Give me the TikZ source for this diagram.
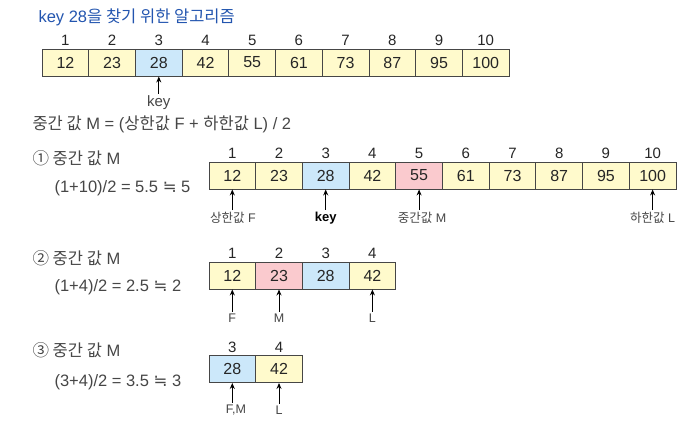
\documentclass[tikz,border=0pt]{standalone}
\usepackage{fontspec}
\setmainfont{Liberation Sans}
\newfontfamily\kr{Noto Sans CJK KR}
\newfontfamily\sym{DejaVu Sans}
\usetikzlibrary{arrows.meta}
\definecolor{titleblue}{RGB}{35,85,175}
\definecolor{cellyellow}{RGB}{255,250,204}
\definecolor{cellblue}{RGB}{204,232,250}
\definecolor{cellpink}{RGB}{250,202,206}
\definecolor{linegray}{RGB}{70,70,70}
\definecolor{textgray}{RGB}{70,70,70}
\newcommand{\approxeq}{{\sym ≒}}
\begin{document}
\begin{tikzpicture}
        [x=1pt, y=-1pt,
        cell/.style={rectangle, draw=linegray, line width=0.9pt, fill=cellyellow, minimum width=46.7pt, minimum height=27pt, font=\fontsize{16}{16}\selectfont, text=black!85, inner sep=0pt,
            label={[font=\fontsize{15}{15}\selectfont, text=black!85, inner sep=2.5pt]above:#1}},
        keycell/.style={cell=#1, fill=cellblue},
        midcell/.style={cell=#1, fill=cellpink},
        txt/.style={anchor=west, font=\fontsize{16.5}{16.5}\selectfont, text=textgray},
        lab/.style={font=\fontsize{12.5}{12.5}\selectfont, text=textgray, inner sep=2pt},
        ptr/.style={-{Stealth[length=6pt, width=5pt]}, black, line width=1pt}]

        \useasboundingbox (0,0) rectangle (700,422);

        \node[anchor=west, font=\fontsize{16.5}{16.5}\selectfont, text=titleblue] (title) at (35,17) {key 28{\kr 을 찾기 위한 알고리즘}};

        % whole array
        \node[cell=1] (a1) at (65.4,62.5) {12};
        \node[cell=2] (a2) at (112.1,62.5) {23};
        \node[keycell=3] (a3) at (158.8,62.5) {28};
        \node[cell=4] (a4) at (205.5,62.5) {42};
        \node[cell=5] (a5) at (252.2,62.5) {55};
        \node[cell=6] (a6) at (298.9,62.5) {61};
        \node[cell=7] (a7) at (345.6,62.5) {73};
        \node[cell=8] (a8) at (392.3,62.5) {87};
        \node[cell=9] (a9) at (439.0,62.5) {95};
        \node[cell=10] (a10) at (485.7,62.5) {100};

        \node[lab, font=\fontsize{15}{15}\selectfont] (akey) at (158.8,103) {key};
        \draw[ptr] (akey.north) -- (a3.south);

        \node[txt] (rule) at (29,124) {{\kr 중간 값} M = ({\kr 상한값} F + {\kr 하한값} L) / 2};

        % step 1
        \node[txt] (s1) at (29,158) {{\kr ① 중간 값} M};
        \node[txt] (c1) at (51,188) {(1+10)/2 = 5.5 \approxeq{} 5};

        \node[cell=1] (p1) at (232.3,175.5) {12};
        \node[cell=2] (p2) at (279.0,175.5) {23};
        \node[keycell=3] (p3) at (325.7,175.5) {28};
        \node[cell=4] (p4) at (372.4,175.5) {42};
        \node[midcell=5] (p5) at (419.1,175.5) {55};
        \node[cell=6] (p6) at (465.8,175.5) {61};
        \node[cell=7] (p7) at (512.5,175.5) {73};
        \node[cell=8] (p8) at (559.2,175.5) {87};
        \node[cell=9] (p9) at (605.9,175.5) {95};
        \node[cell=10] (p10) at (652.6,175.5) {100};

        \node[lab] (pf) at (233,218) {{\kr 상한값} F};
        \node[lab, text=black, font=\bfseries\fontsize{13}{13}\selectfont] (pk) at (325.7,218) {key};
        \node[lab] (pm) at (422,218) {{\kr 중간값} M};
        \node[lab] (pl) at (652.6,218) {{\kr 하한값} L};
        \draw[ptr] (pf.north -| p1.south) -- (p1.south);
        \draw[ptr] (pk.north) -- (p3.south);
        \draw[ptr] (pm.north -| p5.south) -- (p5.south);
        \draw[ptr] (pl.north) -- (p10.south);

        % step 2
        \node[txt] (s2) at (29,258) {{\kr ② 중간 값} M};
        \node[txt] (c2) at (51,287) {(1+4)/2 = 2.5 \approxeq{} 2};

        \node[cell=1] (q1) at (232.3,275.5) {12};
        \node[midcell=2] (q2) at (279.0,275.5) {23};
        \node[keycell=3] (q3) at (325.7,275.5) {28};
        \node[cell=4] (q4) at (372.4,275.5) {42};

        \node[lab] (qf) at (232.3,318) {F};
        \node[lab] (qm) at (279.0,318) {M};
        \node[lab] (ql) at (372.4,318) {L};
        \draw[ptr] (qf.north) -- (q1.south);
        \draw[ptr] (qm.north) -- (q2.south);
        \draw[ptr] (ql.north) -- (q4.south);

        % step 3
        \node[txt] (s3) at (29,350) {{\kr ③ 중간 값} M};
        \node[txt] (c3) at (51,382) {(3+4)/2 = 3.5 \approxeq{} 3};

        \node[keycell=3] (r1) at (232.3,369) {28};
        \node[cell=4] (r2) at (279.0,369) {42};

        \node[lab] (rfm) at (236,410) {F,M};
        \node[lab] (rl) at (279.0,410) {L};
        \draw[ptr] (rfm.north -| r1.south) -- (r1.south);
        \draw[ptr] (rl.north) -- (r2.south);

    \end{tikzpicture}
\end{document}
